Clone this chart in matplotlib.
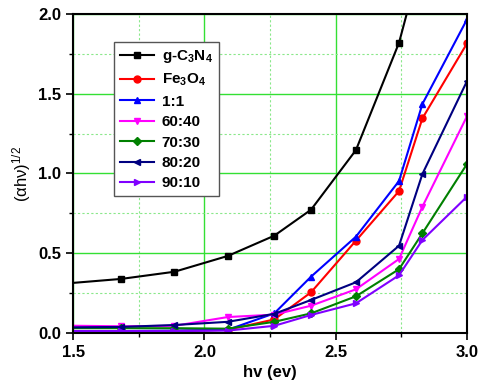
import numpy as np
import matplotlib.pyplot as plt
from matplotlib.ticker import MultipleLocator

# photon energy (eV); first point sits just left of the axis and is clipped
hv = [1.47, 1.683, 1.886, 2.089, 2.266, 2.406, 2.577, 2.741, 2.83, 3.0]

series = {
    "g-C$_3$N$_4$": [0.31, 0.339, 0.384, 0.483, 0.61, 0.773, 1.147, 1.82, 2.37, 3.2],
    "Fe$_3$O$_4$": [0.01, 0.01, 0.012, 0.02, 0.085, 0.255, 0.579, 0.89, 1.346, 1.816],
    "1:1": [0.012, 0.012, 0.015, 0.02, 0.123, 0.353, 0.604, 0.953, 1.436, 1.967],
    "60:40": [0.046, 0.042, 0.045, 0.10, 0.115, 0.171, 0.274, 0.464, 0.792, 1.36],
    "70:30": [0.03, 0.03, 0.03, 0.027, 0.07, 0.123, 0.23, 0.40, 0.625, 1.06],
    "80:20": [0.035, 0.038, 0.05, 0.07, 0.12, 0.207, 0.318, 0.547, 0.997, 1.58],
    "90:10": [0.012, 0.012, 0.012, 0.015, 0.045, 0.113, 0.186, 0.362, 0.583, 0.855],
}
colors = ["black", "#ff0000", "#0000ff", "#ff00ff", "#008000", "#000080", "#8000ff"]
markers = ["s", "o", "^", "v", "D", "<", ">"]

plt.rcParams["font.family"] = ["Liberation Sans", "DejaVu Sans"]
plt.rcParams["mathtext.default"] = "regular"

fig = plt.figure(figsize=(4.84, 3.89), dpi=100)
ax = fig.add_axes([0.151, 0.144, 0.814, 0.820])

for (name, vals), c, m in zip(series.items(), colors, markers):
    ms = 5 if m != "D" else 4
    ax.plot(hv, vals, color=c, marker=m, markersize=ms, linewidth=1.5,
            label=name)

ax.set_xlim(1.5, 3.0)
ax.set_ylim(0, 2.0)
ax.xaxis.set_major_locator(MultipleLocator(0.5))
ax.xaxis.set_minor_locator(MultipleLocator(0.25))
ax.yaxis.set_major_locator(MultipleLocator(0.5))
ax.yaxis.set_minor_locator(MultipleLocator(0.25))

ax.grid(which="major", color="#33e033", linewidth=1.0, linestyle="-")
ax.grid(which="minor", color="#8ae88a", linewidth=0.8, linestyle=(0, (2, 2)))
ax.set_axisbelow(True)

ax.tick_params(which="major", direction="out", length=5, width=1.2)
ax.tick_params(which="minor", direction="out", length=3, width=1.0)
for s in ax.spines.values():
    s.set_linewidth(1.5)

for lab in ax.get_xticklabels() + ax.get_yticklabels():
    lab.set_fontweight("bold")
    lab.set_fontsize(12)

ax.set_xlabel("hv (ev)", fontsize=12, fontweight="bold")
ax.set_ylabel("(αhν)$^{1/2}$", fontsize=12)

leg = ax.legend(loc="upper left", bbox_to_anchor=(0.085, 0.935),
                prop={"weight": "bold", "size": 11}, fancybox=False,
                edgecolor="#555555", framealpha=1, handlelength=2.2,
                labelspacing=0.42, borderpad=0.4, handletextpad=0.5)
leg.get_frame().set_linewidth(1.0)

fig.savefig("out.png", dpi=100)
